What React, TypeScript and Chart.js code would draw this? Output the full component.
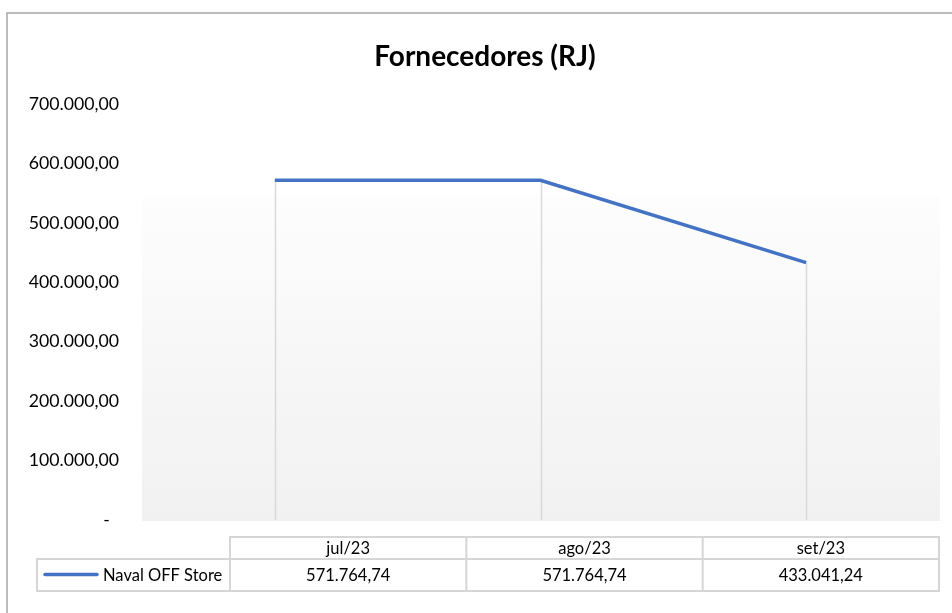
import React, { useEffect, useRef } from "react";
import { Chart, registerables } from "chart.js";

Chart.register(...registerables);

const chartTitle = "Fornecedores (RJ)";
const categories = ["jul/23", "ago/23", "set/23"];
const seriesName = "Naval OFF Store";
const seriesValues = [571764.74, 571764.74, 433041.24];
const yMin = 0;
const yMax = 700000;
const yStep = 100000;

const FONT = "Lato, 'Open Sans', sans-serif";
const LINE_COLOR = "#4472C4";

function fmt(v: number): string {
  if (v === 0) return "-";
  const [i, d] = Math.abs(v).toFixed(2).split(".");
  return (v < 0 ? "-" : "") + i.replace(/\B(?=(\d{3})+(?!\d))/g, ".") + "," + d;
}

const decorPlugin = {
  id: "excelDecor",
  beforeDraw(chart: any) {
    const { ctx, chartArea } = chart;
    const { left, right, top, bottom } = chartArea;
    ctx.save();
    // outer chart border
    ctx.strokeStyle = "#a6a6a6";
    ctx.lineWidth = 1.5;
    ctx.beginPath();
    ctx.moveTo(7, chart.height);
    ctx.lineTo(7, 13);
    ctx.lineTo(chart.width, 13);
    ctx.stroke();
    // plot gradient
    const gTop = top + (bottom - top) * 0.224;
    const g = ctx.createLinearGradient(0, gTop, 0, bottom);
    g.addColorStop(0, "#fdfdfd");
    g.addColorStop(1, "#f1f1f1");
    ctx.fillStyle = g;
    ctx.fillRect(left, gTop, right - left + 1, bottom - gTop + 1);
    // title
    ctx.fillStyle = "#000";
    ctx.font = `bold 28px ${FONT}`;
    ctx.textAlign = "center";
    ctx.textBaseline = "middle";
    ctx.fillText(chartTitle, 485, 57);
    ctx.restore();
  },
  beforeDatasetsDraw(chart: any) {
    const { ctx, chartArea } = chart;
    const meta = chart.getDatasetMeta(0);
    ctx.save();
    ctx.strokeStyle = "#d9d9d9";
    ctx.lineWidth = 1.5;
    meta.data.forEach((pt: any) => {
      ctx.beginPath();
      ctx.moveTo(Math.round(pt.x) + 0.5, pt.y);
      ctx.lineTo(Math.round(pt.x) + 0.5, chartArea.bottom);
      ctx.stroke();
    });
    ctx.restore();
  },
  afterDraw(chart: any) {
    const { ctx, chartArea } = chart;
    const tableLeft = chartArea.left + 88;
    const tableRight = chartArea.right;
    const legendLeft = 37;
    const hTop = 537;
    const hBot = 559;
    const dBot = 591;
    const n = categories.length;
    const colW = (tableRight - tableLeft) / n;
    ctx.save();
    ctx.strokeStyle = "#d6d6d6";
    ctx.lineWidth = 2;
    ctx.beginPath();
    ctx.rect(tableLeft, hTop, tableRight - tableLeft, hBot - hTop);
    ctx.rect(legendLeft, hBot, tableRight - legendLeft, dBot - hBot);
    for (let i = 0; i <= n; i++) {
      const x = tableLeft + colW * i;
      ctx.moveTo(x, hTop);
      ctx.lineTo(x, dBot);
    }
    ctx.stroke();

    ctx.fillStyle = "#000";
    ctx.font = `16.5px ${FONT}`;
    ctx.textAlign = "center";
    ctx.textBaseline = "middle";
    categories.forEach((c, i) => {
      const cx = tableLeft + colW * (i + 0.5);
      ctx.fillText(c, cx, (hTop + hBot) / 2 + 1);
      ctx.fillText(fmt(seriesValues[i]), cx, (hBot + dBot) / 2 + 1);
    });
    // legend key
    ctx.strokeStyle = LINE_COLOR;
    ctx.lineWidth = 3.5;
    ctx.lineCap = "round";
    ctx.beginPath();
    ctx.moveTo(45, 574.5);
    ctx.lineTo(97, 574.5);
    ctx.stroke();
    ctx.textAlign = "left";
    ctx.fillText(seriesName, 103, (hBot + dBot) / 2 + 1);
    ctx.restore();
  },
};

export default function App() {
  const ref = useRef<HTMLCanvasElement | null>(null);
  useEffect(() => {
    if (!ref.current) return;
    const chart = new Chart(ref.current, {
      type: "line",
      data: {
        labels: categories,
        datasets: [
          {
            label: seriesName,
            data: seriesValues,
            borderColor: LINE_COLOR,
            borderWidth: 3.5,
            pointRadius: 0,
            tension: 0,
            fill: false,
          },
        ],
      },
      options: {
        responsive: false,
        animation: false,
        layout: { padding: { left: 0, right: 13, top: 104, bottom: 93 } },
        plugins: {
          legend: { display: false },
          title: { display: false },
          tooltip: { enabled: false },
        },
        scales: {
          x: {
            type: "category",
            offset: true,
            display: false,
          },
          y: {
            min: yMin,
            max: yMax,
            border: { display: false },
            grid: { display: false, drawTicks: false },
            afterFit: (s: any) => {
              s.width = 142;
            },
            ticks: {
              stepSize: yStep,
              padding: 23,
              color: "#000",
              font: { family: FONT, size: 17.7 },
              callback: (v: any) => (Number(v) === 0 ? "-  " : fmt(Number(v))),
            },
          },
        },
      },
      plugins: [decorPlugin],
    });
    return () => chart.destroy();
  }, []);
  return (
    <div style={{ position: "absolute", left: 0, top: 0, width: 952, height: 613, background: "#fff" }}>
      <canvas ref={ref} width={952} height={613} style={{ display: "block" }} />
    </div>
  );
}
